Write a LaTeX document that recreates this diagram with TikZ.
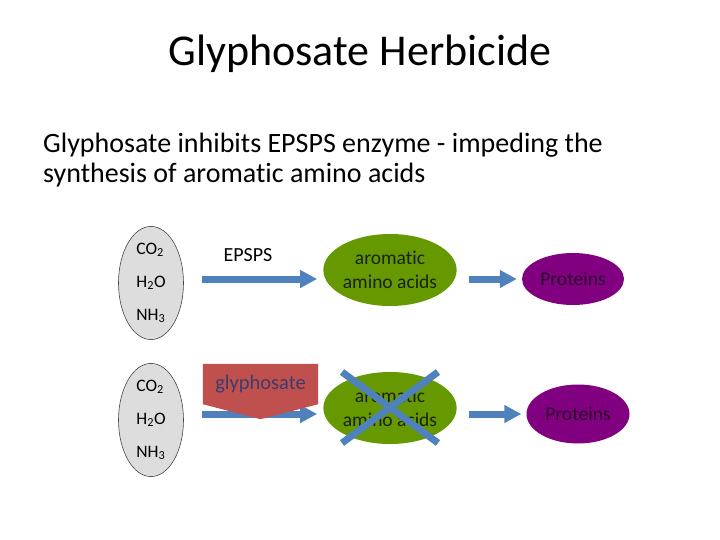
\documentclass[tikz,border=0pt]{standalone}
\usepackage{fontspec}
\setmainfont{Carlito}[Ligatures={NoCommon}]
\usetikzlibrary{arrows.meta, positioning, calc, shapes.geometric, backgrounds}
\definecolor{gasFill}{RGB}{221, 221, 221}
\definecolor{gasEdge}{RGB}{ 70,  70,  70}
\definecolor{acidFill}{RGB}{102, 153,   0}
\definecolor{acidText}{RGB}{ 25,  35,   5}
\definecolor{protFill}{RGB}{128,   0, 128}
\definecolor{protText}{RGB}{ 45,   0,  45}
\definecolor{flowBlue}{RGB}{ 79, 129, 189}
\definecolor{glyFill}{RGB}{192,  80,  77}
\definecolor{glyText}{RGB}{ 60,  60, 110}
\tikzset{
  gasbox/.style={
    ellipse, draw=gasEdge, fill=gasFill, line width=0.6pt,
    minimum width=65pt, minimum height=106pt, inner sep=0pt,
    align=left, font=\fontsize{17.5}{33}\selectfont,
  },
  acidbox/.style={
    ellipse, fill=acidFill, minimum width=133pt, minimum height=72pt,
    inner sep=0pt, align=center, text=acidText,
    font=\fontsize{19.5}{24}\selectfont,
  },
  protbox/.style={
    ellipse, fill=protFill, minimum width=102pt, minimum height=52pt,
    inner sep=0pt, align=center, text=protText,
    font=\fontsize{19.5}{22}\selectfont,
  },
  flow/.style={
    -{Triangle[length=17pt, width=17pt]}, line width=7pt, draw=flowBlue,
  },
  crossline/.style={
    line width=7pt, draw=flowBlue,
  },
}
\newcommand{\gaslist}{%
  CO\textsubscript{2}\\
  H\textsubscript{2}O\\
  NH\textsubscript{3}%
}

\begin{document}
\begin{tikzpicture}[x=1pt, y=-1pt]
\useasboundingbox (0,0) rectangle (720,540);

% =========================================================================
% title and statement
% =========================================================================

\node[anchor=base, font=\fontsize{44}{52}\selectfont] (title) at (360,66)
  {Glyphosate Herbicide};

\node[anchor=base west, align=left, inner sep=0pt,
      font=\fontsize{28}{30}\selectfont] (claim) at (43,183)
  {Glyphosate inhibits EPSPS enzyme - impeding the\\
   synthesis of aromatic amino acids};

% =========================================================================
% normal pathway (top row)
% =========================================================================

\node[gasbox] (gas1) at (151,283) {\gaslist};
\node[acidbox] (aa1) at (390,270) {aromatic\\amino acids};
\node[protbox] (pr1) at (573,279) {Proteins};
\node[font=\fontsize{20}{22}\selectfont] (epsps) at (248,255) {EPSPS};

\draw[flow, shorten <=18pt, shorten >=6pt] (gas1.east |- pr1.west) -- (aa1.west |- pr1.west);
\draw[flow, shorten <=12pt, shorten >=5pt] (aa1.east |- pr1.west) -- (pr1.west);

% =========================================================================
% blocked pathway (bottom row)
% =========================================================================

\node[gasbox] (gas2) at (151,420) {\gaslist};
\node[acidbox] (aa2) at (390,408) {aromatic\\amino acids};
\node[protbox, minimum width=103pt, minimum height=59pt] (pr2) at (578,414) {Proteins};
\node[minimum width=115pt, minimum height=40pt, inner sep=0pt, text=glyText,
      font=\fontsize{20.5}{22}\selectfont] (glyph) at (260.5,384) {glyphosate};

\begin{scope}[on background layer]
  \draw[flow, shorten <=18pt, shorten >=6pt] (gas2.east |- pr2.west) -- (aa2.west |- pr2.west);
  \fill[glyFill] (glyph.north west) -- (glyph.north east) -- (glyph.south east)
    -- ($(glyph.south)+(0,15)$) -- (glyph.south west) -- cycle;
\end{scope}

\draw[flow, shorten <=12pt, shorten >=5pt] (aa2.east |- pr2.west) -- (pr2.west);

% cross over the missing amino acids
\draw[crossline] ($(aa2.center)+(-48,-36)$) -- ($(aa2.center)+(48,35)$);
\draw[crossline] ($(aa2.center)+(48,-36)$) -- ($(aa2.center)+(-48,35)$);

\end{tikzpicture}
\end{document}
